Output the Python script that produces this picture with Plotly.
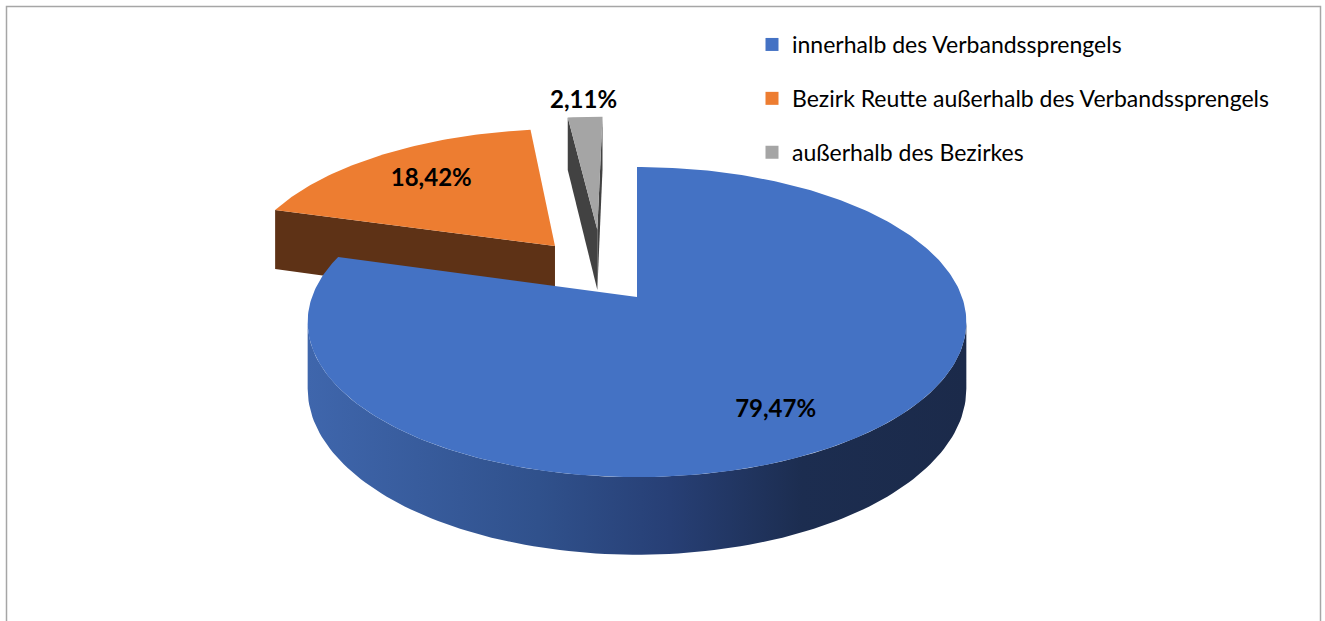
import numpy as np
import plotly.graph_objects as go

# ---- data ----
categories = ["innerhalb des Verbandssprengels",
              "Bezirk Reutte außerhalb des Verbandssprengels",
              "außerhalb des Bezirkes"]
values = [79.47, 18.42, 2.11]

# ---- styles ----
top_colors = ["#4472C4", "#ED7D31", "#A5A5A5"]
cut_colors = ["#2A4A85", "#5E3216", "#424242"]
wall_scales = [
    [[0, "#3F66AC"], [0.35, "#30518C"], [0.55, "#273F75"], [0.75, "#1C2D50"], [1, "#1B2A4A"]],
    [[0, "#7A3F1A"], [1, "#4A250F"]],
    [[0, "#5A5A5A"], [1, "#333333"]],
]
explode = [0, 145, 162]
explode_adj = [0.0, 4.0, -11.5]     # degrees, direction tweak of the pull
label_r = [0.65, 0.70, 1.15]
label_h = [0.40, 0.0, 0.0]

W, Hpx = 1325, 621
CX, CY = 637, 297        # pie centre on screen
R = 325                  # radius
K = 0.4646               # vertical squash (tilt)
D = 6.18 * R             # perspective distance
DEPTH = 65               # thickness

def proj(X, Z, y=0.0):
    X = np.asarray(X, float); Z = np.asarray(Z, float)
    s = D / (D + Z)
    return CX + X * s, CY - Z * K * s + y * s

total = sum(values)
fracs = [v / total for v in values]
starts = np.cumsum([0] + fracs[:-1]) * 2 * np.pi
ends = starts + np.array(fracs) * 2 * np.pi

def offset(i):
    d = (starts[i] + ends[i]) / 2 + np.radians(explode_adj[i])
    return explode[i] * np.sin(d), explode[i] * np.cos(d)

fig = go.Figure()
cam = np.array([0.0, -D])
sil0, sil1 = np.arccos(-R / D), 2 * np.pi - np.arccos(-R / D)

order = sorted(range(len(values)), key=lambda i: -offset(i)[1])

for i in order:
    a0, a1 = starts[i], ends[i]
    ox, oz = offset(i)

    # outer wall (front facing part)
    w0, w1 = max(a0, sil0), min(a1, sil1)
    if w1 > w0:
        t = np.linspace(w0, w1, 120)
        X = ox + R * np.sin(t); Z = oz + R * np.cos(t)
        xt, yt = proj(X, Z, 0)
        xb, yb = proj(X, Z, DEPTH)
        fig.add_trace(go.Scatter(
            x=np.concatenate([xt, xb[::-1]]), y=np.concatenate([yt, yb[::-1]]),
            mode="lines", line=dict(width=0), fill="toself",
            fillgradient=dict(type="horizontal", colorscale=wall_scales[i]),
            hoverinfo="skip", showlegend=False))

    # radial cut faces
    for a, sign in ((a0, -1), (a1, 1)):
        n = np.array([np.cos(a), -np.sin(a)]) * sign
        P = np.array([ox + R / 2 * np.sin(a), oz + R / 2 * np.cos(a)])
        if np.dot(n, cam - P) > 20:
            Xs = [ox, ox + R * np.sin(a)]
            Zs = [oz, oz + R * np.cos(a)]
            xt, yt = proj(Xs, Zs, 0)
            xb, yb = proj(Xs, Zs, DEPTH)
            fig.add_trace(go.Scatter(
                x=[xt[0], xt[1], xb[1], xb[0], xt[0]],
                y=[yt[0], yt[1], yb[1], yb[0], yt[0]],
                mode="lines", line=dict(width=0), fill="toself",
                fillcolor=cut_colors[i], hoverinfo="skip", showlegend=False))

    # top face
    t = np.linspace(a0, a1, max(8, int(400 * fracs[i])))
    X = np.concatenate([[ox], ox + R * np.sin(t), [ox]])
    Z = np.concatenate([[oz], oz + R * np.cos(t), [oz]])
    xt, yt = proj(X, Z, 0)
    fig.add_trace(go.Scatter(
        x=xt, y=yt, mode="lines", line=dict(width=0), fill="toself",
        fillcolor=top_colors[i], name=categories[i],
        hoverinfo="text", text=f"{categories[i]}: {values[i]:.2f}%".replace(".", ","),
        showlegend=False))

# labels
lx, ly, lt = [], [], []
for i in range(len(values)):
    mid = (starts[i] + ends[i]) / 2
    ox, oz = offset(i)
    r = label_r[i] * R
    x, y = proj(ox + r * np.sin(mid), oz + r * np.cos(mid), label_h[i] * DEPTH)
    lx.append(float(x)); ly.append(float(y))
    lt.append(f"{values[i]:.2f}".replace(".", ",") + "%")
fig.add_trace(go.Scatter(
    x=lx, y=ly, mode="text", text=lt, textposition="middle center",
    textfont=dict(family="Lato", size=24, color="#000000", weight="bold"),
    hoverinfo="skip", showlegend=False))

# legend entries
for i in range(len(values)):
    fig.add_trace(go.Scatter(
        x=[None], y=[None], mode="markers", name=categories[i],
        legendgroup=f"g{i}",
        marker=dict(symbol="square", size=13, color=top_colors[i])))

fig.update_layout(
    width=W, height=Hpx,
    margin=dict(l=0, r=0, t=0, b=0),
    paper_bgcolor="white", plot_bgcolor="white",
    xaxis=dict(range=[0, W], visible=False, fixedrange=True),
    yaxis=dict(range=[Hpx, 0], visible=False, fixedrange=True),
    showlegend=True,
    legend=dict(x=752 / W, y=1 - 23 / Hpx, xanchor="left", yanchor="top",
                traceorder="grouped", tracegroupgap=21,
                font=dict(family="Lato", size=23, color="#000000"),
                bgcolor="rgba(0,0,0,0)"),
    shapes=[dict(type="rect", xref="x", yref="y", x0=6.5, x1=1320.5, y0=6.5, y1=640,
                 line=dict(color="#A6A6A6", width=1.5), fillcolor="rgba(0,0,0,0)", layer="below")],
)

fig.write_html("out.html")
